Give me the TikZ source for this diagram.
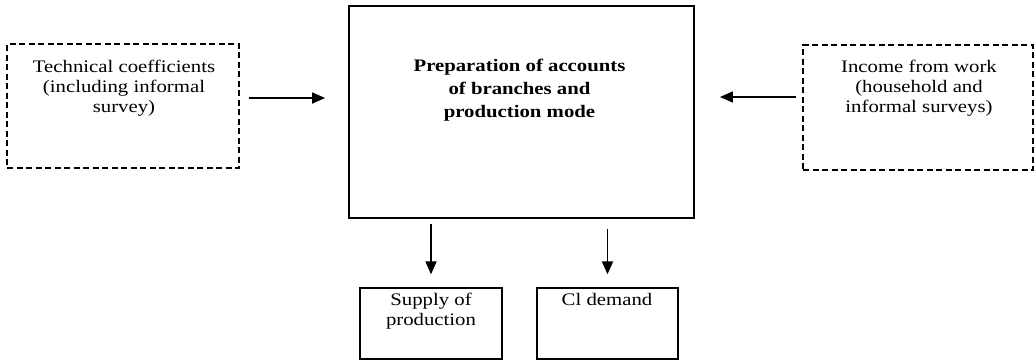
\documentclass[tikz,border=0pt]{standalone}
\usepackage{fontspec}
\setmainfont{Liberation Serif}[FakeStretch=1.18]
\usetikzlibrary{arrows.meta}
\tikzset{
  box/.style={draw, rectangle, inner sep=0pt, line width=1.4pt},
  mainbox/.style={box, line width=1.8pt},
  dbox/.style={draw, rectangle, inner sep=0pt, line width=1.4pt, dash pattern=on 6pt off 3.5pt},
  txt/.style={align=center, inner sep=0pt, font=\fontsize{17.6pt}{20pt}\selectfont},
  btxt/.style={align=center, inner sep=0pt, font=\fontsize{17.6pt}{22.8pt}\selectfont\bfseries},
  arr/.style={line width=1.8pt, -{Triangle[length=13pt,width=11pt]}}
}
\begin{document}
\begin{tikzpicture}[x=1pt,y=-1pt]
\useasboundingbox (0,0) rectangle (1036,360);
% boxes
\node[mainbox, minimum width=345pt, minimum height=212pt] (main) at (521.5,112) {};
\node[dbox, minimum width=232pt, minimum height=124pt] (lbox) at (123,106) {};
\node[dbox, minimum width=230pt, minimum height=125pt] (rbox) at (918,107.5) {};
\node[box, minimum width=142pt, minimum height=71pt] (sbox) at (431,323.5) {};
\node[box, minimum width=141pt, minimum height=71pt] (cbox) at (607.5,323.5) {};
% texts
\node[btxt] (maintext) at (519.5,90) {Preparation of accounts\\of branches and\\production mode};
\node[txt] (ltext) at (124,88) {Technical coefficients\\(including informal\\survey)};
\node[txt] (rtext) at (919,88.5) {Income from work\\(household and\\informal surveys)};
\node[txt] (stext) at (431,311) {Supply of\\production};
\node[txt] (ctext) at (607,299) {Cl demand};
% connectors
\draw[arr, shorten <=9pt, shorten >=23pt] (lbox.east |- 0,98) -- (main.west |- 0,98);
\draw[arr, shorten <=6pt, shorten >=25pt] (rbox.west |- 0,97) -- (main.east |- 0,97);
\draw[arr, shorten <=5pt, shorten >=13pt] (main.south -| sbox.north) -- (sbox.north);
\draw[arr, shorten <=10pt, shorten >=13pt] (main.south -| cbox.north) -- (cbox.north);
\end{tikzpicture}
\end{document}
